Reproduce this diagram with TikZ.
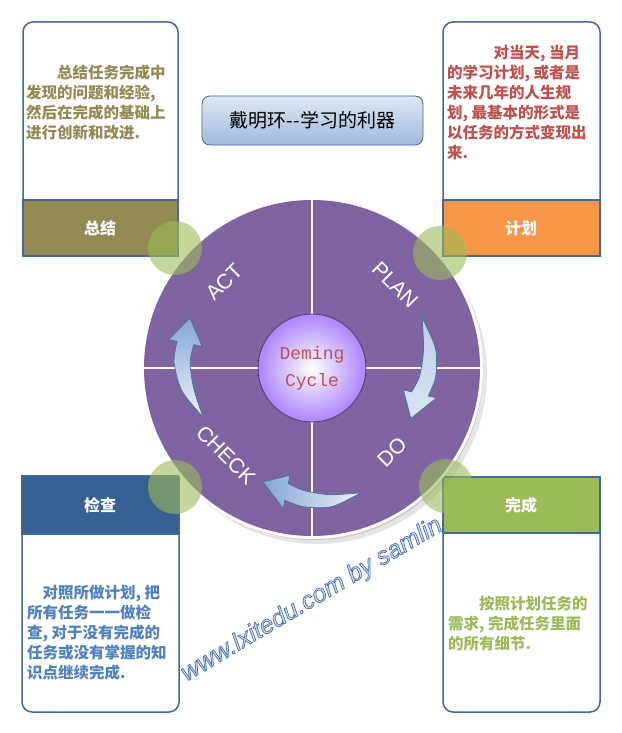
\documentclass[tikz,border=0pt]{standalone}
\usepackage{fontspec}
\setmainfont{Liberation Sans}
\newfontfamily\cjk{Noto Sans CJK SC}
\newfontfamily\monofont{Liberation Mono}
\usetikzlibrary{calc}
\definecolor{PU}{HTML}{8064A2}
\definecolor{GR}{HTML}{9BBB59}
\definecolor{OR}{HTML}{F79646}
\definecolor{OL}{HTML}{938953}
\definecolor{BL}{HTML}{376092}
\definecolor{RD}{HTML}{C0504D}
\definecolor{TX}{HTML}{4F81BD}
\definecolor{BD}{HTML}{41699E}
\definecolor{AR}{HTML}{85A6D4}
\definecolor{AE}{HTML}{46709F}
\definecolor{LV}{HTML}{AC84FA}

\tikzset{
  boxline/.style={draw=BD, line width=1.5pt},
  boxtext/.style={anchor=north west, inner sep=0pt, align=left,
    font=\cjk\bfseries\fontsize{15.5}{20}\selectfont},
  bandtext/.style={text=white, font=\cjk\bfseries\fontsize{16}{18}\selectfont},
  phase/.style={text=white, font=\fontsize{21}{24}\selectfont},
  spot/.style={circle, fill=GR, fill opacity=0.6, minimum size=54, inner sep=0pt},
  cyclearrowstyle/.style={draw=AE, line width=0.7pt},
  wm/.style={rotate=30.6, font=\itshape\fontsize{25}{28}\selectfont}
}

% outlined text: light fill, blue stroke
\newcommand\outlined[1]{\special{pdf:literal direct 2 Tr 0.7 w 0.27 0.43 0.68 RG}#1\special{pdf:literal direct 0 Tr}}

% curved block arrow round the wheel centre:
% tail angle, tail radius, radius at 2/5, radius at 3/4, head base angle,
% head radius, tip angle, tip radius, shading
\newcommand\cyclearrow[9]{%
  \pgfmathsetmacro\aA{#1+(#5-#1)*0.4}
  \pgfmathsetmacro\aB{#1+(#5-#1)*0.75}
  \pgfmathsetmacro\rOa{#3+6}
  \pgfmathsetmacro\rIa{#3-6}
  \pgfmathsetmacro\rOb{#4+8}
  \pgfmathsetmacro\rIb{#4-8}
  \pgfmathsetmacro\rOc{#6+8.5}
  \pgfmathsetmacro\rIc{#6-8.5}
  \pgfmathsetmacro\rHo{#6+17}
  \pgfmathsetmacro\rHi{#6-17}
  \draw[cyclearrowstyle, #9]
    plot[smooth] coordinates {(#1:#2pt) (\aA:\rOa pt) (\aB:\rOb pt) (#5:\rOc pt)}
    -- (#5:\rHo pt) -- (#7:#8pt) -- (#5:\rHi pt)
    -- plot[smooth] coordinates {(#5:\rIc pt) (\aB:\rIb pt) (\aA:\rIa pt) (#1:#2pt)}
    -- cycle;
}

\begin{document}
\begin{tikzpicture}[x=1pt, y=-1pt]
\useasboundingbox (0,0) rectangle (621,733);
\fill[white] (0,0) rectangle (621,733);

% four boxes
\draw[boxline, fill=white, rounded corners=10] (23,22) rectangle (178,230);
\draw[boxline, fill=OL] (23,200) rectangle (178,256);
\draw[boxline, fill=white, rounded corners=10] (443,22) rectangle (600,230);
\draw[boxline, fill=OR] (443,200) rectangle (600,256);
\draw[boxline, fill=white, rounded corners=10] (22,500) rectangle (179,712);
\draw[boxline, fill=BL] (22,476) rectangle (179,534);
\draw[boxline, fill=white, rounded corners=10] (443,500) rectangle (600,712);
\draw[boxline, fill=GR] (443,477) rectangle (600,533);

\node[bandtext] (actband) at (100,228) {总结};
\node[bandtext] (planband) at (521,228) {计划};
\node[bandtext] (checkband) at (100,505) {检查};
\node[bandtext] (doband) at (521,505) {完成};

\node[boxtext, text=OL] (acttext) at (26,65)
  {\hspace*{2em}总结任务完成中\\发现的问题和经验,\\然后在完成的基础上\\进行创新和改进.};
\node[boxtext, text=RD] (plantext) at (447,45)
  {\hspace*{3em}对当天, 当月\\的学习计划, 或者是\\未来几年的人生规\\划, 最基本的形式是\\以任务的方式变现出\\来.};
\node[boxtext, text=TX] (checktext) at (27,585)
  {\hspace*{1em}对照所做计划, 把\\所有任务一一做检\\查, 对于没有完成的\\任务或没有掌握的知\\识点继续完成.};
\node[boxtext, text=GR] (dotext) at (448,596)
  {\hspace*{2em}按照计划任务的\\需求, 完成任务里面\\的所有细节.};

% title
\node[draw=BD, line width=0.8pt, rounded corners=8, top color=blue!4!TX!18, bottom color=TX!55,
  minimum width=221, minimum height=49, font=\cjk\fontsize{19}{22}\selectfont]
  (title) at (312.5,120.5) {戴明环--学习的利器};

% wheel
\fill[black, opacity=0.10] (317,374) circle (170);
\fill[black, opacity=0.12] (314,371) circle (169);
\fill[white] (312,368) circle (171);
\fill[PU] (312,368) circle (168);
\draw[white, line width=1.5pt] (144,368) -- (480,368) (312,200) -- (312,536);

\node[circle, draw=PU!60!black, line width=0.8pt, inner color=white, outer color=LV,
  minimum size=108, inner sep=0pt, align=center, text=RD,
  font=\monofont\fontsize{18}{27}\selectfont] (core) at (312,368) {Deming\\Cycle};

\node[phase, rotate=45] (act) at (224,282) {ACT};
\node[phase, rotate=-45] (plan) at (395,285) {PLAN};
\node[phase, rotate=45] (do) at (392,452) {DO};
\node[phase, rotate=-45] (check) at (226,455) {CHECK};

\begin{scope}[shift={(312,368)}]
\cyclearrow{24.4}{121}{119}{116}{-13.5}{111}{-27}{111}{top color=AR!55, bottom color=AR!30}
\cyclearrow{204.2}{119.5}{126}{130}{168.8}{129}{157.7}{132}{top color=AR, bottom color=AR!15}
\cyclearrow{-68.6}{134}{134}{131}{-101.6}{126.5}{-113.3}{124}{left color=AR, right color=AR!15}
\end{scope}

% corner spots
\node[spot] (spotact) at (175,248) {};
\node[spot] (spotplan) at (440,253) {};
\node[spot] (spotcheck) at (175,487) {};
\node[spot] (spotdo) at (446,486) {};

% watermark
\node[wm, text=TX!25] (watermark) at (312,600) {\outlined{www.lxitedu.com by samlin}};
\end{tikzpicture}
\end{document}
